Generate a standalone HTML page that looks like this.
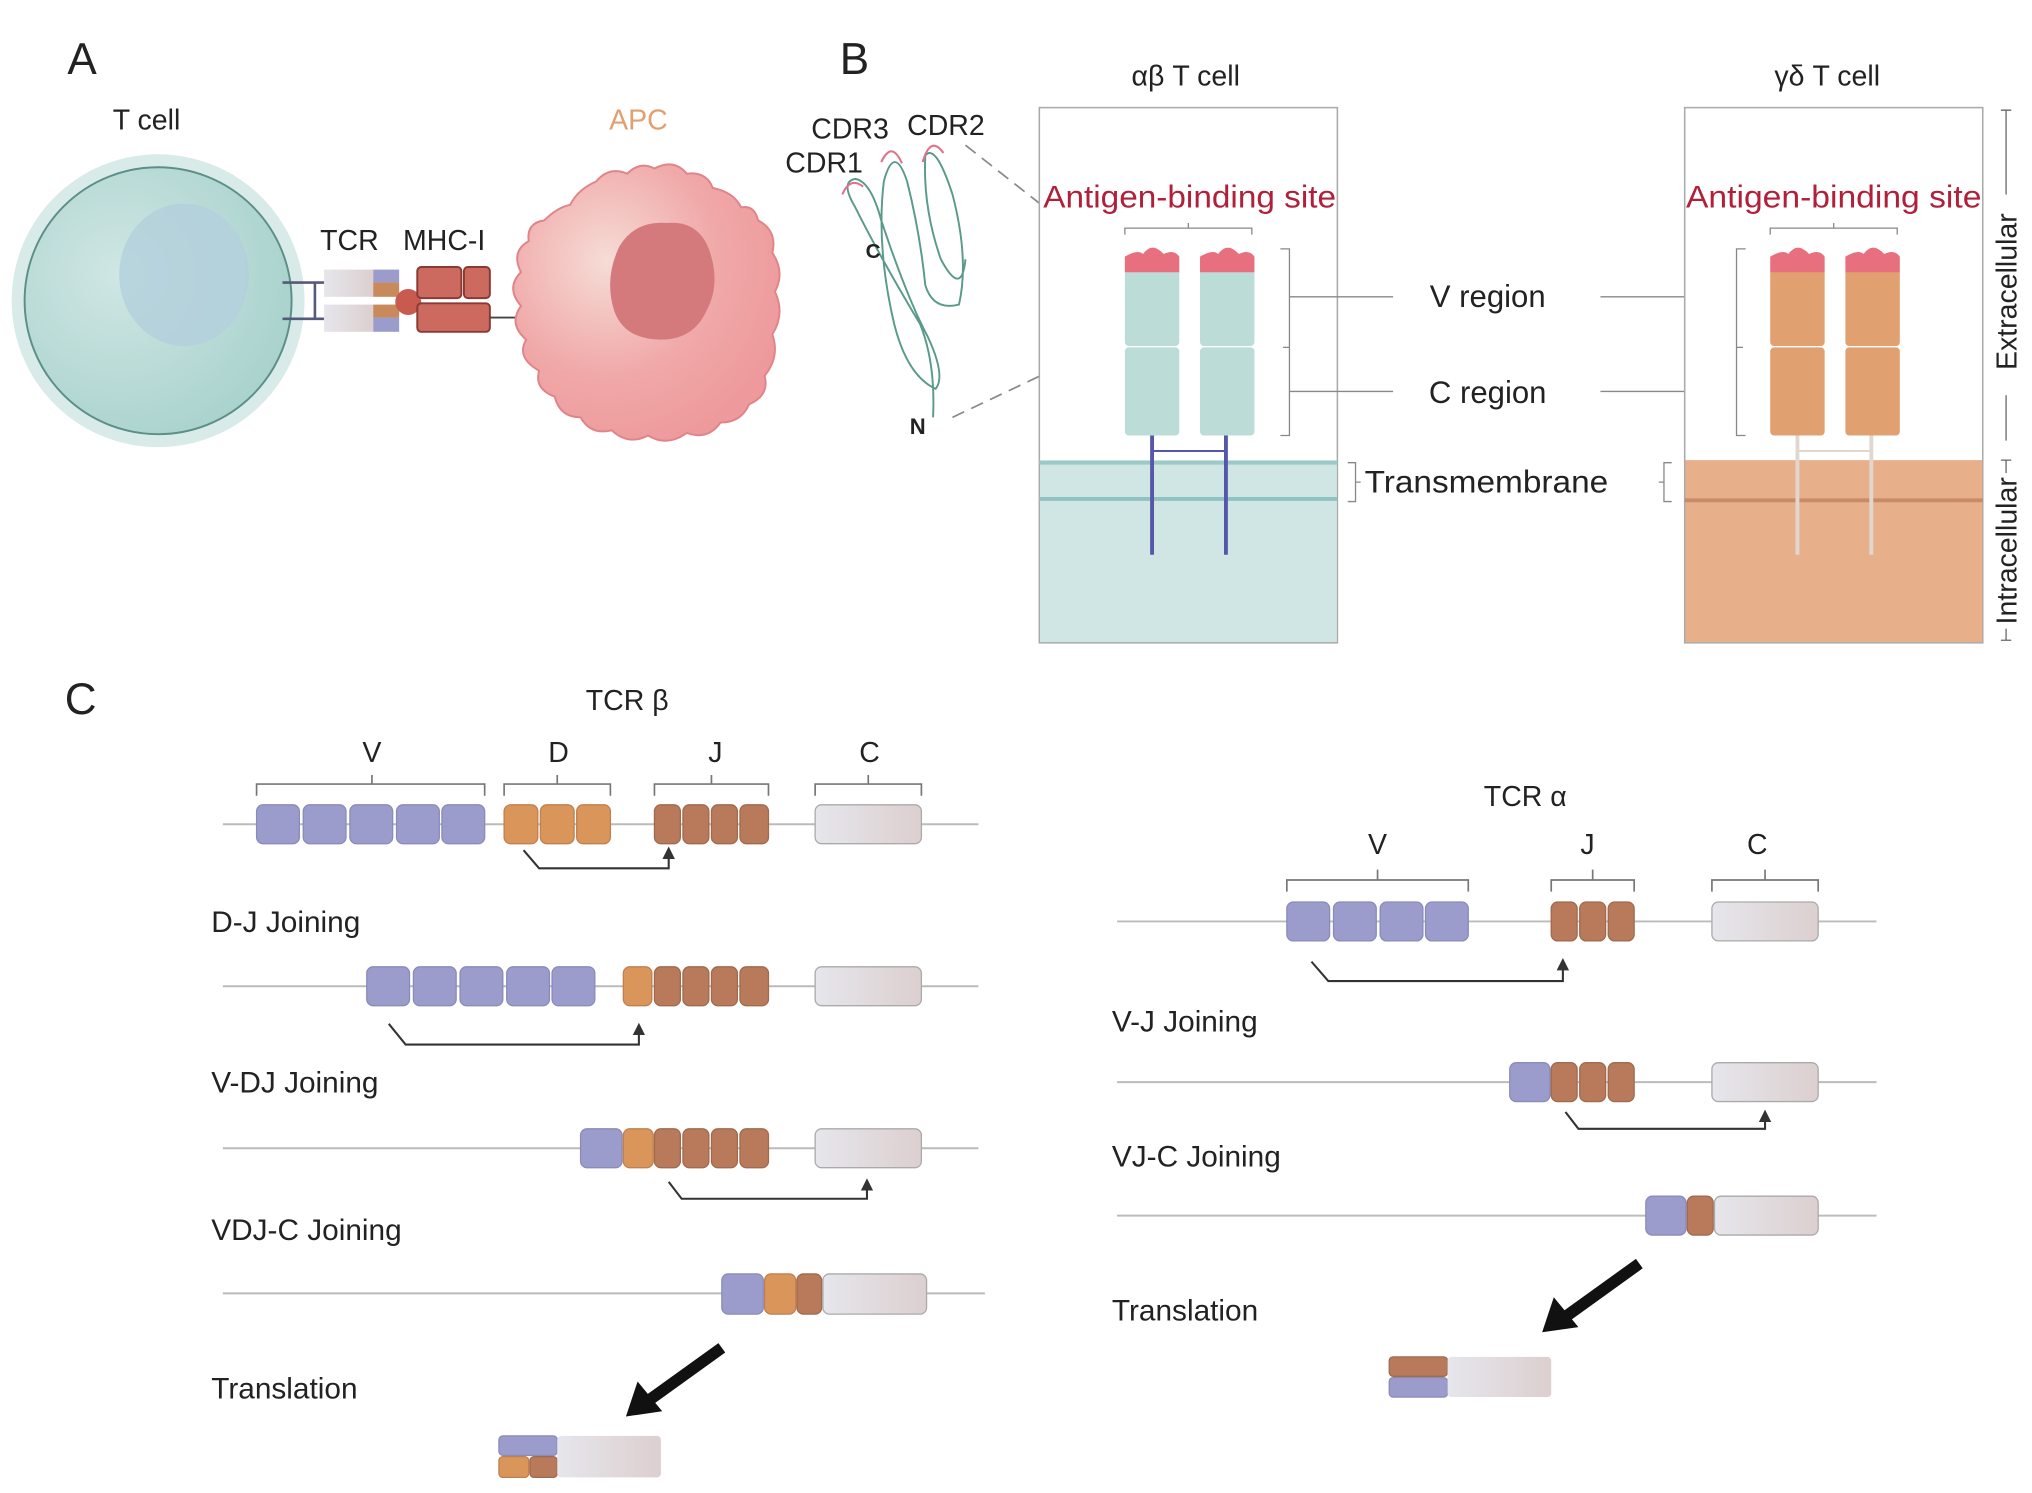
<!DOCTYPE html>
<html><head><meta charset="utf-8"><style>
html,body{margin:0;padding:0;background:#fff}
svg{display:block}
text{font-family:"Liberation Sans",sans-serif;fill:#222}
</style></head><body>
<svg width="2032" height="1493" viewBox="0 0 1568 1152" xmlns="http://www.w3.org/2000/svg">
<defs>
<radialGradient id="cellg" cx="0.35" cy="0.4" r="0.7"><stop offset="0" stop-color="#cfe6e4"/><stop offset="1" stop-color="#a8d2cc"/></radialGradient>
<radialGradient id="apcg" cx="0.35" cy="0.35" r="0.7"><stop offset="0" stop-color="#f6dcd6"/><stop offset="0.6" stop-color="#f0a8a8"/><stop offset="1" stop-color="#ee9a9c"/></radialGradient>
<linearGradient id="cg" x1="0" x2="1"><stop offset="0" stop-color="#e6e6ec"/><stop offset="1" stop-color="#dccfcf"/></linearGradient>
<marker id="ah" markerWidth="6" markerHeight="6" refX="3" refY="3" orient="auto"><path d="M0,0 L6,3 L0,6 z" fill="#333"/></marker>
</defs>

<!-- Panel A -->
<text x="52" y="57" font-size="34">A</text>
<text x="87" y="100" font-size="22">T cell</text>
<circle cx="122" cy="232" r="113" fill="#d8ebe8"/>
<circle cx="122" cy="232" r="103" fill="url(#cellg)" stroke="#5b8f88" stroke-width="1.5"/>
<ellipse cx="142" cy="212" rx="50" ry="55" fill="#b3d0dc" opacity="0.8"/>
<line x1="218" y1="218" x2="250" y2="218" stroke="#555a7a" stroke-width="2"/>
<line x1="218" y1="246" x2="250" y2="246" stroke="#555a7a" stroke-width="2"/>
<line x1="243" y1="218" x2="243" y2="246" stroke="#555a7a" stroke-width="2"/>
<text x="247" y="193" font-size="22">TCR</text>
<text x="311" y="193" font-size="22">MHC-I</text>
<rect x="250" y="208" width="38" height="21" fill="url(#cg)"/>
<rect x="250" y="235" width="38" height="21" fill="url(#cg)"/>
<rect x="288" y="208" width="20" height="10" fill="#9b9ccb"/><rect x="288" y="218" width="20" height="11" fill="#c88a5a"/>
<rect x="288" y="235" width="20" height="10" fill="#c88a5a"/><rect x="288" y="245" width="20" height="11" fill="#9b9ccb"/>
<circle cx="315" cy="233" r="10" fill="#c85a50"/>
<rect x="322" y="206" width="34" height="24" rx="3" fill="#cc6a60" stroke="#8a3a34" stroke-width="1.5"/>
<rect x="358" y="206" width="20" height="24" rx="3" fill="#cc6a60" stroke="#8a3a34" stroke-width="1.5"/>
<rect x="322" y="234" width="56" height="22" rx="3" fill="#cc6a60" stroke="#8a3a34" stroke-width="1.5"/>
<line x1="378" y1="245" x2="410" y2="245" stroke="#444" stroke-width="1.5"/>
<text x="470" y="100" font-size="22" style="fill:#e0a070">APC</text>
<path d="M420,170 Q430,160 440,158 Q446,146 460,140 Q470,128 484,134 Q494,124 505,130 Q520,122 530,134 Q545,132 550,145 Q566,148 572,160 Q582,158 585,170 Q600,178 596,195 Q606,210 598,225 Q606,242 596,258 Q602,275 590,290 Q594,305 578,312 Q572,326 556,326 Q546,340 530,334 Q515,345 500,336 Q485,344 472,332 Q456,336 448,322 Q432,322 428,306 Q412,300 416,286 Q398,276 406,262 Q392,250 402,236 Q390,222 402,210 Q394,194 408,186 Q406,172 420,170 Z" fill="url(#apcg)" stroke="#e08488" stroke-width="1.5"/>
<path d="M478,190 Q490,170 515,172 Q540,170 548,195 Q556,220 545,240 Q535,262 510,262 Q482,262 474,240 Q466,215 478,190 Z" fill="#d47a7c"/>

<!-- Panel B -->
<text x="648" y="57" font-size="34">B</text>
<text x="606" y="133" font-size="22">CDR1</text>
<text x="626" y="107" font-size="22">CDR3</text>
<text x="700" y="104" font-size="22">CDR2</text>
<g fill="none" stroke="#5a9a8a" stroke-width="1.5">
<path d="M720,322 Q722,280 710,250 Q680,200 660,160 Q648,140 660,138 Q672,140 680,170 Q700,230 716,260 Q730,290 722,300 Q700,290 690,250 Q676,190 682,140 Q690,110 700,140 Q710,180 714,220 Q720,240 740,235 Q748,200 735,150 Q722,110 714,120 Q712,160 726,200 Q742,230 745,200"/>
</g>
<g fill="none" stroke="#e4708a" stroke-width="1.6">
<path d="M650,150 Q656,136 666,144"/><path d="M680,125 Q688,108 696,126"/><path d="M712,125 Q718,104 728,118"/>
</g>
<text x="668" y="199" font-size="16" font-weight="bold">C</text>
<text x="702" y="335" font-size="17" font-weight="bold">N</text>
<line x1="745" y1="112" x2="866" y2="207" stroke="#888" stroke-width="1.3" stroke-dasharray="10,6"/>
<line x1="735" y1="322" x2="866" y2="260" stroke="#888" stroke-width="1.3" stroke-dasharray="10,6"/>

<text x="915" y="66" font-size="22" text-anchor="middle">αβ T cell</text>
<rect x="802" y="83" width="230" height="413" fill="#fff" stroke="#aaa" stroke-width="1.2"/>
<rect x="802.6" y="355" width="229" height="140.4" fill="#cfe6e4"/>
<line x1="802" y1="357" x2="1032" y2="357" stroke="#9cc9c8" stroke-width="3"/>
<line x1="802" y1="385" x2="1032" y2="385" stroke="#8fc2c2" stroke-width="3"/>
<text x="805" y="160" font-size="24" textLength="226" lengthAdjust="spacingAndGlyphs" style="fill:#b0203a">Antigen-binding site</text>
<path d="M868,181 V176 H966 V181 M917,176 V172" fill="none" stroke="#888"/>
<g>
<line x1="889" y1="336" x2="889" y2="428" stroke="#5558a8" stroke-width="3"/>
<line x1="946" y1="336" x2="946" y2="428" stroke="#5558a8" stroke-width="3"/>
<line x1="889" y1="348" x2="946" y2="348" stroke="#5558a8" stroke-width="1.5"/>
<rect x="868" y="207" width="42" height="60" rx="3" fill="#bcdcd8"/><rect x="868" y="268" width="42" height="68" rx="3" fill="#bcdcd8"/>
<rect x="926" y="207" width="42" height="60" rx="3" fill="#bcdcd8"/><rect x="926" y="268" width="42" height="68" rx="3" fill="#bcdcd8"/>
<path d="M868,210 V198 Q878,192 882,196 Q889,186 898,196 Q906,192 910,198 V210 Z" fill="#e8707e"/>
<path d="M926,210 V198 Q936,192 940,196 Q947,186 956,196 Q964,192 968,198 V210 Z" fill="#e8707e"/>
</g>
<path d="M988,192 H995 V336 H988 M995,268 H990" fill="none" stroke="#888"/>
<line x1="995" y1="229" x2="1075" y2="229" stroke="#888"/>
<line x1="995" y1="302" x2="1075" y2="302" stroke="#888"/>
<text x="1148" y="237" font-size="24" text-anchor="middle">V region</text>
<text x="1148" y="311" font-size="24" text-anchor="middle">C region</text>
<line x1="1235" y1="229" x2="1340" y2="229" stroke="#888"/>
<line x1="1235" y1="302" x2="1340" y2="302" stroke="#888"/>
<path d="M1040,357 H1046 V387 H1040 M1046,372 H1050" fill="none" stroke="#888"/>
<text x="1053" y="380" font-size="24" textLength="188" lengthAdjust="spacingAndGlyphs">Transmembrane</text>
<path d="M1290,357 H1284 V387 H1290 M1284,372 H1280" fill="none" stroke="#888"/>

<text x="1410" y="66" font-size="22" text-anchor="middle">γδ T cell</text>
<rect x="1300" y="83" width="230" height="413" fill="#fff" stroke="#aaa" stroke-width="1.2"/>
<rect x="1300.6" y="355" width="229" height="140.4" fill="#e8b08a"/>
<line x1="1300" y1="386" x2="1530" y2="386" stroke="#c88a68" stroke-width="3"/>
<text x="1301" y="160" font-size="24" textLength="228" lengthAdjust="spacingAndGlyphs" style="fill:#b0203a">Antigen-binding site</text>
<path d="M1366,181 V176 H1464 V181 M1415,176 V172" fill="none" stroke="#888"/>
<line x1="1387" y1="336" x2="1387" y2="428" stroke="#e0d8d0" stroke-width="3"/>
<line x1="1444" y1="336" x2="1444" y2="428" stroke="#e0d8d0" stroke-width="3"/>
<line x1="1387" y1="348" x2="1444" y2="348" stroke="#e0d8d0" stroke-width="1.5"/>
<rect x="1366" y="207" width="42" height="60" rx="3" fill="#e0a070"/><rect x="1366" y="268" width="42" height="68" rx="3" fill="#e0a070"/>
<rect x="1424" y="207" width="42" height="60" rx="3" fill="#e0a070"/><rect x="1424" y="268" width="42" height="68" rx="3" fill="#e0a070"/>
<path d="M1366,210 V198 Q1376,192 1380,196 Q1387,186 1396,196 Q1404,192 1408,198 V210 Z" fill="#e8707e"/>
<path d="M1424,210 V198 Q1434,192 1438,196 Q1445,186 1454,196 Q1462,192 1466,198 V210 Z" fill="#e8707e"/>
<path d="M1347,192 H1340 V336 H1347 M1340,268 H1345" fill="none" stroke="#888"/>
<path d="M1544,85 H1552 M1548,85 V150 M1548,305 V340 M1544,355 H1552 M1548,355 V365 M1548,485 V494 M1544,494 H1552" fill="none" stroke="#666"/>
<text transform="translate(1556,225) rotate(-90)" font-size="22" text-anchor="middle">Extracellular</text>
<text transform="translate(1556,425) rotate(-90)" font-size="22" text-anchor="middle">Intracellular</text>

<!-- Panel C -->
<text x="50" y="551" font-size="34">C</text>
<text x="484" y="548" font-size="22" text-anchor="middle">TCR β</text>
<g font-size="22" text-anchor="middle">
<text x="287" y="588">V</text><text x="431" y="588">D</text><text x="552" y="588">J</text><text x="671" y="588">C</text>
<text x="1177" y="622">TCR α</text>
<text x="1063" y="659">V</text><text x="1225" y="659">J</text><text x="1356" y="659">C</text>
</g>
<g fill="none" stroke="#777" stroke-width="1.3">
<path d="M198,614 V605 H374 V614 M287,605 V598"/>
<path d="M389,614 V605 H471 V614 M430,605 V598"/>
<path d="M505,614 V605 H593 V614 M549,605 V598"/>
<path d="M629,614 V605 H711 V614 M670,605 V598"/>
<path d="M993,688 V679 H1133 V688 M1063,679 V671"/>
<path d="M1197,688 V679 H1261 V688 M1229,679 V671"/>
<path d="M1321,688 V679 H1403 V688 M1362,679 V671"/>
</g>
<g stroke="#bbb" stroke-width="1.5">
<line x1="172" y1="636" x2="755" y2="636"/>
<line x1="172" y1="761" x2="755" y2="761"/>
<line x1="172" y1="886" x2="755" y2="886"/>
<line x1="172" y1="998" x2="760" y2="998"/>
<line x1="862" y1="711" x2="1448" y2="711"/>
<line x1="862" y1="835" x2="1448" y2="835"/>
<line x1="862" y1="938" x2="1448" y2="938"/>
</g>
<g stroke-width="1">
<g fill="#9b9ccb" stroke="#8a8bbb">
<rect x="198" y="621" width="33" height="30" rx="5"/><rect x="234" y="621" width="33" height="30" rx="5"/><rect x="270" y="621" width="33" height="30" rx="5"/><rect x="306" y="621" width="33" height="30" rx="5"/><rect x="341" y="621" width="33" height="30" rx="5"/>
<rect x="283" y="746" width="33" height="30" rx="5"/><rect x="319" y="746" width="33" height="30" rx="5"/><rect x="355" y="746" width="33" height="30" rx="5"/><rect x="391" y="746" width="33" height="30" rx="5"/><rect x="426" y="746" width="33" height="30" rx="5"/>
<rect x="448" y="871" width="32" height="30" rx="5"/>
<rect x="557" y="983" width="32" height="31" rx="5"/>
<rect x="993" y="696" width="33" height="30" rx="5"/><rect x="1029" y="696" width="33" height="30" rx="5"/><rect x="1065" y="696" width="33" height="30" rx="5"/><rect x="1100" y="696" width="33" height="30" rx="5"/>
<rect x="1165" y="820" width="31" height="30" rx="5"/>
<rect x="1270" y="923" width="31" height="30" rx="5"/>
<rect x="385" y="1108" width="45" height="15" rx="3"/>
<rect x="1072" y="1063" width="45" height="15" rx="3"/>
</g>
<g fill="#d9955a" stroke="#c08050">
<rect x="389" y="621" width="26" height="30" rx="5"/><rect x="417" y="621" width="26" height="30" rx="5"/><rect x="445" y="621" width="26" height="30" rx="5"/>
<rect x="481" y="746" width="22" height="30" rx="5"/>
<rect x="481" y="871" width="23" height="30" rx="5"/>
<rect x="590" y="983" width="24" height="31" rx="5"/>
<rect x="385" y="1124" width="23" height="16" rx="3"/>
</g>
<g fill="#b87a5a" stroke="#a06a4e">
<rect x="505" y="621" width="20" height="30" rx="5"/><rect x="527" y="621" width="20" height="30" rx="5"/><rect x="549" y="621" width="20" height="30" rx="5"/><rect x="571" y="621" width="22" height="30" rx="5"/>
<rect x="505" y="746" width="20" height="30" rx="5"/><rect x="527" y="746" width="20" height="30" rx="5"/><rect x="549" y="746" width="20" height="30" rx="5"/><rect x="571" y="746" width="22" height="30" rx="5"/>
<rect x="505" y="871" width="20" height="30" rx="5"/><rect x="527" y="871" width="20" height="30" rx="5"/><rect x="549" y="871" width="20" height="30" rx="5"/><rect x="571" y="871" width="22" height="30" rx="5"/>
<rect x="615" y="983" width="19" height="31" rx="5"/>
<rect x="1197" y="696" width="20" height="30" rx="5"/><rect x="1219" y="696" width="20" height="30" rx="5"/><rect x="1241" y="696" width="20" height="30" rx="5"/>
<rect x="1197" y="820" width="20" height="30" rx="5"/><rect x="1219" y="820" width="20" height="30" rx="5"/><rect x="1241" y="820" width="20" height="30" rx="5"/>
<rect x="1302" y="923" width="20" height="30" rx="5"/>
<rect x="409" y="1124" width="21" height="16" rx="3"/>
<rect x="1072" y="1047" width="45" height="15" rx="3"/>
</g>
<g fill="url(#cg)" stroke="#aaa">
<rect x="629" y="621" width="82" height="30" rx="5"/>
<rect x="629" y="746" width="82" height="30" rx="5"/>
<rect x="629" y="871" width="82" height="30" rx="5"/>
<rect x="635" y="983" width="80" height="31" rx="5"/>
<rect x="1321" y="696" width="82" height="30" rx="5"/>
<rect x="1321" y="820" width="82" height="30" rx="5"/>
<rect x="1323" y="923" width="80" height="30" rx="5"/>
</g>
<rect x="430" y="1108" width="80" height="32" rx="3" fill="url(#cg)"/>
<rect x="1117" y="1047" width="80" height="31" rx="3" fill="url(#cg)"/>
</g>
<g fill="none" stroke="#333" stroke-width="1.6" marker-end="url(#ah)">
<path d="M404,656 L416,670 H516 V658"/>
<path d="M300,790 L313,806 H493 V794"/>
<path d="M516,912 L526,925 H669 V914"/>
<path d="M1012,742 L1025,757 H1206 V744"/>
<path d="M1208,858 L1218,871 H1362 V861"/>
</g>
<g font-size="23">
<text x="163" y="719">D-J Joining</text>
<text x="163" y="843">V-DJ Joining</text>
<text x="163" y="957">VDJ-C Joining</text>
<text x="163" y="1079">Translation</text>
<text x="858" y="796">V-J Joining</text>
<text x="858" y="900">VJ-C Joining</text>
<text x="858" y="1019">Translation</text>
</g>
<line x1="557" y1="1040" x2="500" y2="1081" stroke="#111" stroke-width="9"/>
<path d="M483,1093 L492,1066 L511,1089 Z" fill="#111"/>
<line x1="1265" y1="975" x2="1208" y2="1016" stroke="#111" stroke-width="9"/>
<path d="M1190,1028 L1199,1001 L1218,1024 Z" fill="#111"/>
</svg>
</body></html>
